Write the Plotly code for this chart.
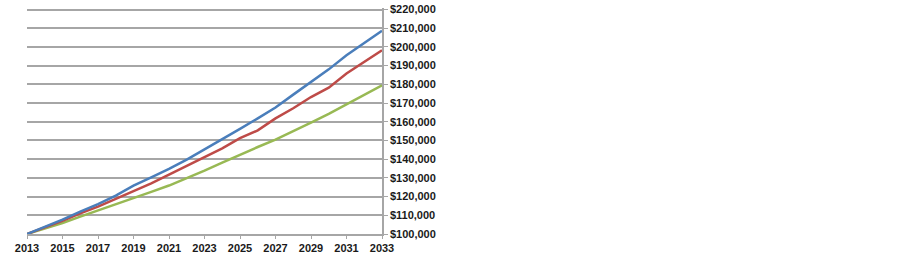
import plotly.graph_objects as go

years = list(range(2013, 2034))
blue_vals = [100000, 103800, 107700, 112000, 116000, 120500, 125800, 130300, 134800, 139800,
             145200, 150500, 156200, 161800, 167600, 174500, 181200, 188000, 195500, 202000, 208600]
red_vals = [100000, 103500, 107100, 111000, 114600, 118800, 122900, 127000, 131800, 136500,
            141400, 145800, 151200, 155400, 161800, 167200, 173200, 178200, 185800, 192000, 198200]
green_vals = [100000, 102900, 105900, 109300, 112500, 115700, 119300, 122500, 125900, 129800,
              133900, 138200, 142500, 146500, 150400, 154800, 159500, 164200, 169300, 174300, 179500]
x_ticks = list(range(2013, 2034, 2))
y_ticks = list(range(100000, 220001, 10000))
y_labels = ["${:,}".format(v) for v in y_ticks]

fig = go.Figure()
for vals, col in [(green_vals, "#98b954"), (red_vals, "#be4b48"), (blue_vals, "#4a7ebb")]:
    fig.add_trace(go.Scatter(x=years, y=vals, mode="lines",
                             line=dict(color=col, width=2.5), showlegend=False,
                             hoverinfo="skip"))

fig.update_layout(
    width=900, height=256,
    margin=dict(l=27, r=518, t=8, b=22, autoexpand=False),
    paper_bgcolor="white", plot_bgcolor="white",
    font=dict(family="Liberation Sans, Arial", size=11, color="#1a1a1a"),
)
fig.update_xaxes(
    range=[2013, 2033], tickvals=x_ticks, ticktext=[str(v) for v in x_ticks],
    showgrid=False, zeroline=False, automargin=False,
    showline=True, linecolor="#a6a6a6", linewidth=1.5,
    ticks="outside", ticklen=3, tickcolor="#a6a6a6",
    tickfont=dict(family="Liberation Sans, Arial", size=11, color="#1a1a1a", weight="bold"),
)
fig.update_yaxes(
    side="right", range=[100000, 220800], tickvals=y_ticks, ticktext=y_labels,
    showgrid=True, gridcolor="#a6a6a6", gridwidth=1.5, zeroline=False, automargin=False,
    showline=True, linecolor="#a6a6a6", linewidth=1.5,
    ticks="outside", ticklen=4, tickcolor="#a6a6a6",
    tickfont=dict(family="Liberation Sans, Arial", size=11, color="#1a1a1a", weight="bold"),
)

fig.write_html("out.html", config={"displayModeBar": False},
               post_script="document.body.style.margin='0px';document.body.style.overflow='hidden';")
